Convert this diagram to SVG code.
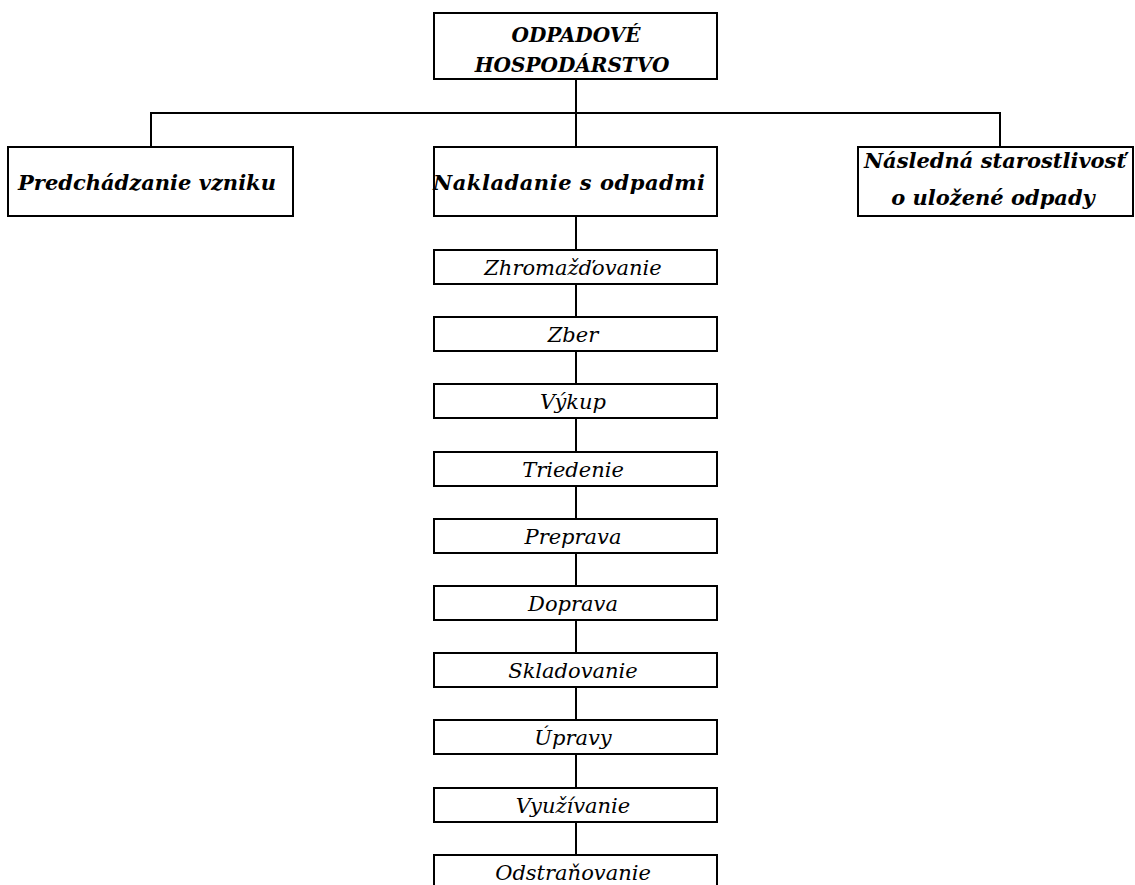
<svg xmlns="http://www.w3.org/2000/svg" width="1135" height="885" viewBox="0 0 1135 885">
<style>
rect{fill:#fff;stroke:#000;stroke-width:2}
.c line{stroke:#000;stroke-width:2}
text{font-family:"DejaVu Serif","Liberation Serif",serif;font-style:italic;text-anchor:middle;fill:#000}
.b{font-weight:bold;font-size:21px}
.t{font-weight:bold;font-size:20px}
.s{font-size:21px}
</style>
<rect x="0" y="0" width="1135" height="885" style="stroke:none"/>
<g class="c" id="connectors">
<line x1="576" y1="79" x2="576" y2="113"/>
<line x1="150" y1="113" x2="1001" y2="113"/>
<line x1="151" y1="113" x2="151" y2="147"/>
<line x1="576" y1="113" x2="576" y2="147"/>
<line x1="1000" y1="113" x2="1000" y2="147"/>
<line x1="576" y1="216" x2="576" y2="250"/>
<line x1="576" y1="284" x2="576" y2="317"/>
<line x1="576" y1="351" x2="576" y2="384"/>
<line x1="576" y1="418" x2="576" y2="452"/>
<line x1="576" y1="486" x2="576" y2="519"/>
<line x1="576" y1="553" x2="576" y2="586"/>
<line x1="576" y1="620" x2="576" y2="653"/>
<line x1="576" y1="687" x2="576" y2="720"/>
<line x1="576" y1="754" x2="576" y2="788"/>
<line x1="576" y1="822" x2="576" y2="855"/>
</g>
<g id="n-root"><rect x="434" y="13" width="283" height="66"/><text class="t" x="576" y="42">ODPADOVÉ</text><text class="t" x="572" y="72">HOSPODÁRSTVO</text></g>
<g id="n-pred"><rect x="8" y="147" width="285" height="69"/><text class="b" x="147" y="190">Predchádzanie vzniku</text></g>
<g id="n-nakl"><rect x="434" y="147" width="283" height="69"/><text class="b" x="569" y="190" textLength="272">Nakladanie s odpadmi</text></g>
<g id="n-nasl"><rect x="858" y="147" width="275" height="69"/><text class="b" x="995" y="168">Následná starostlivosť</text><text class="b" x="993" y="205">o uložené odpady</text></g>
<g id="n1"><rect x="434" y="250" width="283" height="34"/><text class="s" x="573" y="275">Zhromažďovanie</text></g>
<g id="n2"><rect x="434" y="317" width="283" height="34"/><text class="s" x="573" y="342">Zber</text></g>
<g id="n3"><rect x="434" y="384" width="283" height="34"/><text class="s" x="573" y="409">Výkup</text></g>
<g id="n4"><rect x="434" y="452" width="283" height="34"/><text class="s" x="573" y="477">Triedenie</text></g>
<g id="n5"><rect x="434" y="519" width="283" height="34"/><text class="s" x="573" y="544">Preprava</text></g>
<g id="n6"><rect x="434" y="586" width="283" height="34"/><text class="s" x="573" y="611">Doprava</text></g>
<g id="n7"><rect x="434" y="653" width="283" height="34"/><text class="s" x="573" y="678">Skladovanie</text></g>
<g id="n8"><rect x="434" y="720" width="283" height="34"/><text class="s" x="573" y="745">Úpravy</text></g>
<g id="n9"><rect x="434" y="788" width="283" height="34"/><text class="s" x="573" y="813">Využívanie</text></g>
<g id="n10"><rect x="434" y="855" width="283" height="34"/><text class="s" x="573" y="880">Odstraňovanie</text></g>
</svg>
